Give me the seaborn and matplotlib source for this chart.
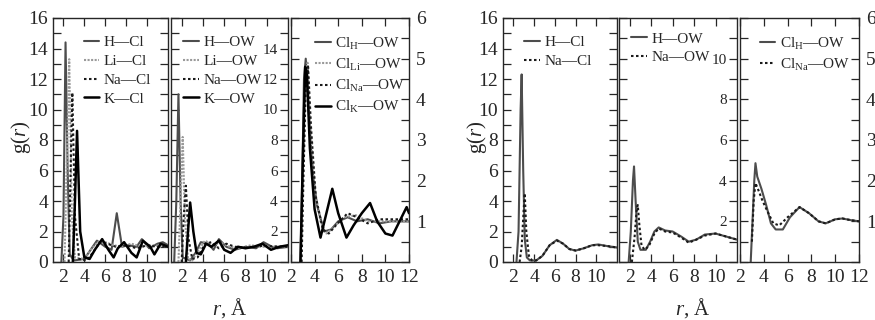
import numpy as np
import pandas as pd
import seaborn as sns
import matplotlib.pyplot as plt
from matplotlib.ticker import MultipleLocator

# ---------------- data: r (A) and g(r) ----------------
# left group, panel a: cation - Cl
r_h_cl = [1.8, 2.0, 2.2, 2.4, 2.6, 3.0, 4.0, 4.5, 5.2, 6.0, 6.6, 7.1, 7.6, 8.2, 9.0, 9.5, 10.2, 11.0, 11.5, 12.0]
g_h_cl = [0.0, 3.0, 14.4, 6.0, 0.5, 0.1, 0.2, 0.7, 1.4, 1.0, 0.8, 3.2, 1.0, 1.1, 1.0, 1.5, 0.9, 1.2, 1.3, 1.1]
r_li_cl = [2.1, 2.3, 2.55, 2.8, 3.1, 4.0, 4.6, 5.3, 6.0, 6.8, 7.5, 8.5, 9.5, 10.5, 12.0]
g_li_cl = [0.0, 6.0, 13.3, 3.0, 0.3, 0.2, 0.8, 1.3, 1.3, 1.1, 1.0, 1.2, 1.0, 1.1, 1.0]
r_na_cl = [2.5, 2.65, 2.85, 3.1, 3.5, 4.2, 4.8, 5.5, 6.2, 7.0, 8.0, 9.0, 10.0, 11.0, 12.0]
g_na_cl = [0.0, 5.0, 11.1, 3.0, 0.2, 0.1, 0.6, 1.3, 1.2, 1.0, 1.1, 0.9, 1.1, 1.0, 1.0]
r_k_cl = [2.9, 3.1, 3.3, 3.6, 4.0, 4.5, 5.0, 5.7, 6.3, 6.8, 7.2, 7.8, 8.5, 9.0, 9.6, 10.3, 10.7, 11.3, 12.0]
g_k_cl = [0.0, 4.0, 8.6, 2.0, 0.3, 0.2, 0.8, 1.5, 0.8, 0.3, 0.9, 1.3, 0.6, 0.3, 1.4, 1.0, 0.5, 1.2, 1.0]

# left group, panel b: cation - OW
r_h_ow = [1.3, 1.5, 1.7, 1.9, 2.1, 2.8, 3.3, 3.8, 4.5, 5.0, 5.5, 6.2, 7.0, 8.0, 9.0, 9.7, 10.5, 11.0, 12.0]
g_h_ow = [0.0, 4.0, 11.0, 4.0, 0.3, 0.1, 0.6, 1.3, 1.2, 0.8, 1.5, 1.0, 0.8, 1.0, 0.9, 1.3, 1.0, 0.9, 1.0]
r_li_ow = [1.7, 1.9, 2.1, 2.3, 2.6, 3.0, 3.6, 4.2, 5.0, 5.6, 6.5, 7.5, 8.5, 9.5, 12.0]
g_li_ow = [0.0, 4.0, 8.2, 3.0, 0.2, 0.1, 0.8, 1.4, 1.1, 1.3, 1.0, 0.9, 1.1, 1.0, 1.0]
r_na_ow = [2.0, 2.2, 2.4, 2.65, 3.0, 3.5, 4.2, 4.8, 5.5, 6.2, 7.0, 8.0, 9.5, 12.0]
g_na_ow = [0.0, 3.0, 5.0, 1.5, 0.2, 0.3, 1.2, 1.3, 0.9, 1.2, 1.0, 0.95, 1.05, 1.0]
r_k_ow = [2.4, 2.6, 2.8, 3.1, 3.4, 3.8, 4.3, 4.8, 5.5, 6.0, 6.6, 7.3, 8.0, 8.8, 9.6, 10.4, 11.2, 12.0]
g_k_ow = [0.0, 2.0, 3.9, 2.0, 0.6, 0.5, 1.2, 1.0, 1.4, 0.8, 0.6, 1.0, 0.9, 1.0, 1.2, 0.8, 1.0, 1.1]

# left group, panel c: Cl(cation) - OW
r_clh_ow = [2.8, 2.95, 3.1, 3.25, 3.45, 3.8, 4.2, 4.8, 5.4, 6.0, 6.8, 7.6, 8.5, 9.5, 10.5, 12.0]
g_clh_ow = [0.0, 2.0, 4.5, 5.0, 4.0, 2.3, 1.4, 0.75, 0.8, 1.0, 1.1, 1.0, 1.05, 0.95, 1.0, 1.0]
r_clli_ow = [2.85, 3.0, 3.2, 3.4, 3.6, 4.0, 4.5, 5.0, 5.6, 6.5, 7.5, 8.5, 9.5, 12.0]
g_clli_ow = [0.0, 2.0, 4.2, 4.9, 3.5, 1.8, 1.0, 0.7, 0.85, 1.1, 1.15, 1.0, 1.0, 1.0]
r_clna_ow = [2.9, 3.05, 3.25, 3.45, 3.7, 4.1, 4.7, 5.2, 5.8, 6.8, 7.6, 8.5, 9.5, 12.0]
g_clna_ow = [0.0, 2.0, 4.3, 4.8, 3.3, 1.6, 0.8, 0.7, 0.9, 1.2, 1.1, 0.95, 1.05, 1.05]
r_clk_ow = [2.8, 3.0, 3.2, 3.35, 3.6, 4.0, 4.5, 5.0, 5.5, 6.0, 6.7, 7.3, 8.0, 8.7, 9.3, 10.0, 10.6, 11.2, 11.8, 12.0]
g_clk_ow = [0.0, 2.5, 4.8, 4.6, 2.8, 1.3, 0.6, 1.2, 1.8, 1.2, 0.6, 0.9, 1.2, 1.45, 1.0, 0.7, 0.65, 1.0, 1.35, 1.2]

# right group, panel d: cation - Cl
r_h_cl2 = [2.3, 2.5, 2.7, 2.8, 2.95, 3.1, 3.3, 3.6, 4.2, 4.8, 5.5, 6.2, 6.8, 7.4, 8.0, 8.8, 9.6, 10.2, 11.0, 12.0]
g_h_cl2 = [0.0, 2.0, 10.0, 12.3, 6.0, 1.5, 0.3, 0.1, 0.1, 0.4, 1.1, 1.45, 1.2, 0.85, 0.75, 0.9, 1.1, 1.15, 1.05, 0.95]
r_na_cl2 = [2.6, 2.8, 3.0, 3.1, 3.25, 3.5, 3.8, 4.2, 4.8, 5.5, 6.2, 6.8, 7.4, 8.0, 8.8, 9.6, 10.2, 11.0, 12.0]
g_na_cl2 = [0.0, 1.0, 3.5, 4.5, 2.0, 0.4, 0.1, 0.1, 0.4, 1.1, 1.4, 1.2, 0.85, 0.75, 0.9, 1.1, 1.1, 1.05, 0.95]

# right group, panel e: cation - OW
r_h_ow2 = [1.9, 2.1, 2.3, 2.4, 2.55, 2.75, 3.0, 3.5, 3.9, 4.3, 4.7, 5.3, 6.0, 6.8, 7.5, 8.2, 9.0, 10.0, 11.0, 12.0]
g_h_ow2 = [0.0, 1.5, 4.0, 4.7, 3.0, 1.0, 0.6, 0.6, 1.0, 1.5, 1.7, 1.55, 1.5, 1.25, 1.0, 1.1, 1.35, 1.4, 1.25, 1.1]
r_na_ow2 = [2.2, 2.45, 2.65, 2.75, 2.9, 3.1, 3.4, 3.8, 4.3, 4.7, 5.3, 6.0, 6.8, 7.5, 8.2, 9.0, 10.0, 11.0, 12.0]
g_na_ow2 = [0.0, 1.2, 2.6, 2.8, 1.8, 0.8, 0.6, 0.8, 1.4, 1.65, 1.5, 1.45, 1.2, 0.95, 1.1, 1.3, 1.4, 1.25, 1.1]

# right group, panel f: Cl(cation) - OW
r_clh_ow2 = [2.9, 3.05, 3.2, 3.3, 3.45, 3.8, 4.2, 4.6, 5.0, 5.6, 6.2, 7.0, 7.8, 8.6, 9.2, 10.0, 10.6, 11.3, 12.0]
g_clh_ow2 = [0.0, 1.0, 2.0, 2.43, 2.1, 1.8, 1.4, 0.95, 0.8, 0.8, 1.1, 1.35, 1.2, 1.0, 0.95, 1.05, 1.07, 1.03, 1.0]
r_clna_ow2 = [3.0, 3.15, 3.3, 3.5, 3.9, 4.3, 4.8, 5.3, 6.0, 7.0, 7.8, 8.6, 9.2, 10.0, 10.6, 11.3, 12.0]
g_clna_ow2 = [0.5, 1.5, 1.94, 1.8, 1.5, 1.25, 0.95, 0.9, 1.1, 1.35, 1.2, 1.0, 0.95, 1.05, 1.07, 1.03, 1.0]

# ---------------- style ----------------
sns.set_style("ticks")
plt.rcParams['font.family'] = ['Liberation Serif', 'DejaVu Serif']
plt.rcParams['mathtext.fontset'] = 'custom'
plt.rcParams['mathtext.rm'] = 'Liberation Serif'
plt.rcParams['mathtext.it'] = 'Liberation Serif:italic'

line_style = {
    'H': dict(color='#4d4d4d', linewidth=1.5, linestyle='-'),
    'Li': dict(color='#9a9a9a', linewidth=1.5, linestyle=(0, (1, 0.7))),
    'Na': dict(color='#1a1a1a', linewidth=1.5, linestyle=(0, (1.2, 1.2))),
    'K': dict(color='black', linewidth=1.8, linestyle='-'),
}

fig = plt.figure(figsize=(8.75, 3.2), dpi=100)
W, H = 875, 320
top_px, bot_px = 18, 262


def new_ax(x0, x1):
    return fig.add_axes([x0 / W, 1 - bot_px / H, (x1 - x0) / W, (bot_px - top_px) / H])


def draw(ax, curves, legend_x, legend_y=0.94):
    for key, r, g, lab in curves:
        sns.lineplot(x=r, y=g, ax=ax, label=lab, **line_style[key])
    ax.legend(loc='upper left', bbox_to_anchor=(legend_x, legend_y), frameon=False, fontsize=11,
              handlelength=1.0, handletextpad=0.3, labelspacing=0.33, borderaxespad=0, borderpad=0.2)
    for s in ax.spines.values():
        s.set_linewidth(1.0)
        s.set_visible(True)
    ax.tick_params(which='both', direction='in', top=True, right=True, length=6, width=0.9)
    ax.tick_params(axis='x', labelsize=14, pad=5)
    ax.tick_params(axis='y', labelsize=14)
    ax.set_xlabel('')
    ax.set_ylabel('')


def style_first(ax):
    ax.set_xlim(1, 12)
    ax.set_ylim(0, 16)
    ax.set_xticks([2, 4, 6, 8, 10])
    ax.set_yticks(range(0, 17, 2))
    ax.yaxis.set_minor_locator(MultipleLocator(1))


def style_middle(ax, ymax, labels):
    ax.set_xlim(1, 12)
    ax.set_ylim(0, ymax)
    ax.set_xticks([2, 4, 6, 8, 10])
    ax.set_yticks(labels)
    ax.yaxis.set_minor_locator(MultipleLocator(1))
    ax.tick_params(axis='y', labelleft=False, labelright=True, labelsize=11, pad=-7.5)
    for t in ax.get_yticklabels():
        t.set_horizontalalignment('right')


def style_last(ax):
    ax.set_xlim(2, 12)
    ax.set_ylim(0, 6)
    ax.set_xticks([2, 4, 6, 8, 10, 12])
    ax.set_yticks([1, 2, 3, 4, 5, 6])
    ax.yaxis.set_minor_locator(MultipleLocator(0.5))
    ax.tick_params(axis='y', labelleft=False, labelright=True, labelsize=14, pad=5)


D = '\u2014'
# ---- left group ----
ax1 = new_ax(53, 168)
draw(ax1, [('H', r_h_cl, g_h_cl, 'H' + D + 'Cl'), ('Li', r_li_cl, g_li_cl, 'Li' + D + 'Cl'),
           ('Na', r_na_cl, g_na_cl, 'Na' + D + 'Cl'), ('K', r_k_cl, g_k_cl, 'K' + D + 'Cl')], 0.24)
style_first(ax1)

ax2 = new_ax(171, 288)
draw(ax2, [('H', r_h_ow, g_h_ow, 'H' + D + 'OW'), ('Li', r_li_ow, g_li_ow, 'Li' + D + 'OW'),
           ('Na', r_na_ow, g_na_ow, 'Na' + D + 'OW'), ('K', r_k_ow, g_k_ow, 'K' + D + 'OW')], 0.08)
style_middle(ax2, 16, [2, 4, 6, 8, 10, 12, 14])

ax3 = new_ax(291, 409)
draw(ax3, [('H', r_clh_ow, g_clh_ow, r'Cl$_{\mathrm{H}}$' + D + 'OW'),
           ('Li', r_clli_ow, g_clli_ow, r'Cl$_{\mathrm{Li}}$' + D + 'OW'),
           ('Na', r_clna_ow, g_clna_ow, r'Cl$_{\mathrm{Na}}$' + D + 'OW'),
           ('K', r_clk_ow, g_clk_ow, r'Cl$_{\mathrm{K}}$' + D + 'OW')], 0.18)
style_last(ax3)

# ---- right group ----
ax4 = new_ax(503, 617)
draw(ax4, [('H', r_h_cl2, g_h_cl2, 'H' + D + 'Cl'), ('Na', r_na_cl2, g_na_cl2, 'Na' + D + 'Cl')], 0.16)
style_first(ax4)

ax5 = new_ax(619, 737)
draw(ax5, [('H', r_h_ow2, g_h_ow2, 'H' + D + 'OW'), ('Na', r_na_ow2, g_na_ow2, 'Na' + D + 'OW')], 0.08, 0.955)
style_middle(ax5, 12, [2, 4, 6, 8, 10])

ax6 = new_ax(740, 859)
draw(ax6, [('H', r_clh_ow2, g_clh_ow2, r'Cl$_{\mathrm{H}}$' + D + 'OW'),
           ('Na', r_clna_ow2, g_clna_ow2, r'Cl$_{\mathrm{Na}}$' + D + 'OW')], 0.14)
style_last(ax6)

# axis titles
for xc, yc in [(21, 137), (477, 137)]:
    fig.text(xc / W, 1 - yc / H, r'g($r$)', rotation=90, ha='center', va='center', fontsize=15)
for xc in [230, 693]:
    fig.text(xc / W, 1 - 308 / H, r'$r$, Å', ha='center', va='center', fontsize=15)

fig.savefig('out.png', dpi=100)
